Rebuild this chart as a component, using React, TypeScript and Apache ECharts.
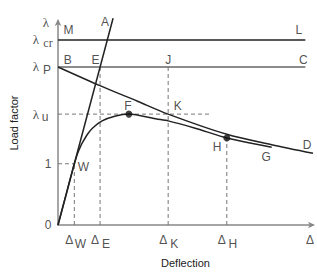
import React, { useEffect, useRef } from "react";
import * as echarts from "echarts";

// Key values (data units: x = deflection, y = load factor)
const lambdaCr = 3.02;
const lambdaP = 2.58;
const lambdaU = 1.81;
const deltaW = 0.64;
const deltaE = 1.65;
const deltaK = 4.32;
const deltaH = 6.62;
const xMax = 10;
const yMax = 3.33;

// Elastic line O-A
const lineA: number[][] = [[0, 0], [2.16, 3.375]];
// Rigid-plastic / mechanism line B-D
const curveBD: number[][] = [
  [0, 2.58], [1.62, 2.28], [3.12, 2.02], [4.32, 1.81], [6.62, 1.48], [8.38, 1.31], [10, 1.17],
];
// Actual response O-W-F-H-G
const curveOG: number[][] = [
  [0, 0], [0.32, 0.5], [0.56, 0.88], [0.64, 1], [0.76, 1.16], [0.88, 1.28], [0.98, 1.36],
  [1.17, 1.49], [1.35, 1.58], [1.73, 1.7], [2.26, 1.78], [2.78, 1.81], [3.87, 1.73],
  [4.32, 1.7], [5.38, 1.58], [6.62, 1.42], [7.63, 1.33], [8.38, 1.27],
];
const pointF: number[] = [2.78, 1.81];
const pointH: number[] = [6.62, 1.42];

// Dashed guide segments
const guides: number[][][] = [
  [[0, lambdaU], [5.94, lambdaU]],
  [[0, 1], [deltaW, 1]],
  [[deltaW, 0], [deltaW, 1]],
  [[deltaE, 0], [deltaE, lambdaP]],
  [[deltaK, 0], [deltaK, lambdaP]],
  [[deltaH, 0], [deltaH, 1.42]],
];

// Point letters: [text, x, y]
const letters: [string, number, number][] = [
  ["M", 0.41, 3.19], ["A", 1.84, 3.31], ["L", 9.44, 3.19],
  ["B", 0.38, 2.69], ["E", 1.47, 2.69], ["J", 4.32, 2.69], ["C", 9.62, 2.69],
  ["F", 2.74, 1.95], ["K", 4.7, 1.94], ["W", 1.0, 0.95],
  ["H", 6.24, 1.28], ["G", 8.16, 1.11], ["D", 9.77, 1.3],
];

// Y tick labels: [main, subscript, value]
const yTicks: [string, string, number][] = [
  ["0", "", 0], ["1", "", 1], ["λ", "u", lambdaU], ["λ", "P", lambdaP], ["λ", "cr", lambdaCr],
];
// X tick labels: [subscript, value]
const xTicks: [string, number][] = [
  ["W", deltaW], ["E", deltaE], ["K", deltaK], ["H", deltaH], ["", xMax],
];

const FONT = "Liberation Sans, Arial, sans-serif";
const SERIF = "Liberation Serif, DejaVu Serif, serif";

export default function App() {
  const ref = useRef<HTMLDivElement>(null);
  useEffect(() => {
    if (!ref.current) return;
    const chart = echarts.init(ref.current, undefined, { renderer: "svg" });

    const textData: any[] = [];
    letters.forEach(([t, x, y]) => {
      textData.push({
        value: [x, y],
        label: { show: true, position: "inside", formatter: t, fontSize: 12, color: "#222", fontFamily: FONT },
      });
    });
    yTicks.forEach(([m, s, v]) => {
      if (s === "") {
        textData.push({
          value: [0, v],
          label: { show: true, position: "inside", offset: [-10, 0], formatter: m, fontSize: 12, color: "#222", fontFamily: FONT },
        });
      } else {
        textData.push({
          value: [0, v],
          label: { show: true, position: "inside", offset: [-22, 0], formatter: m, fontSize: 13, color: "#222", fontFamily: SERIF },
        });
        const isSerif = s === "cr";
        textData.push({
          value: [0, v],
          label: {
            show: true, position: "inside",
            offset: [s === "cr" ? -10 : s === "P" ? -11 : -13, 3],
            formatter: s, fontSize: 12, color: "#222", fontFamily: isSerif ? SERIF : FONT,
          },
        });
      }
    });
    // top λ at axis end
    textData.push({
      value: [0, 3.31],
      label: { show: true, position: "inside", offset: [-12, 0], formatter: "λ", fontSize: 13, color: "#222", fontFamily: SERIF },
    });
    xTicks.forEach(([s, v]) => {
      textData.push({
        value: [v, 0],
        label: { show: true, position: "inside", offset: [s === "" ? -3 : -5, 15], formatter: "Δ", fontSize: 12, color: "#222", fontFamily: FONT },
      });
      if (s) {
        textData.push({
          value: [v, 0],
          label: { show: true, position: "inside", offset: [6, 19], formatter: s, fontSize: 12, color: "#222", fontFamily: FONT },
        });
      }
    });

    const guideSeries = guides.map((seg) => ({
      type: "line",
      data: seg,
      symbol: "none",
      lineStyle: { color: "#777", width: 1, type: [4, 3] },
      silent: true,
      z: 1,
    }));

    chart.setOption({
      animation: false,
      grid: { left: 47, right: 4, top: 21, bottom: 39 },
      xAxis: {
        type: "value", min: 0, max: xMax,
        name: "Deflection", nameLocation: "middle", nameGap: 32,
        nameTextStyle: { fontSize: 11, color: "#222", fontFamily: FONT },
        axisLine: { lineStyle: { color: "#888", width: 1.5 }, symbol: ["none", "arrow"], symbolSize: [5, 7], symbolOffset: [0, 2] },
        axisTick: { show: false }, axisLabel: { show: false }, splitLine: { show: false },
      },
      yAxis: {
        type: "value", min: 0, max: yMax,
        name: "Load factor", nameLocation: "middle", nameGap: 39,
        nameTextStyle: { fontSize: 11, color: "#222", fontFamily: FONT },
        axisLine: { lineStyle: { color: "#888", width: 1.5 }, symbol: ["none", "arrow"], symbolSize: [5, 7], symbolOffset: [0, 2] },
        axisTick: { show: false }, axisLabel: { show: false }, splitLine: { show: false },
      },
      series: [
        ...guideSeries,
        {
          type: "line", data: [[0, lambdaCr], [9.7, lambdaCr]], symbol: "none",
          lineStyle: { color: "#222", width: 1.5 }, z: 2,
        },
        {
          type: "line", data: [[0, lambdaP], [9.7, lambdaP]], symbol: "none",
          lineStyle: { color: "#666", width: 1.4 }, z: 2,
        },
        {
          type: "line", data: lineA, symbol: "none", clip: false,
          lineStyle: { color: "#222", width: 1.5 }, z: 3,
        },
        {
          type: "line", data: curveBD, symbol: "none", smooth: 0.3,
          lineStyle: { color: "#222", width: 1.5 }, z: 3,
        },
        {
          type: "line", data: curveOG, symbol: "none", smooth: 0.2,
          lineStyle: { color: "#222", width: 1.5 }, z: 3,
        },
        {
          type: "scatter", data: [pointF, pointH], symbolSize: 7,
          itemStyle: { color: "#111" }, z: 4,
        },
        {
          type: "scatter", data: textData, symbolSize: 0, clip: false,
          itemStyle: { color: "transparent" }, z: 5, silent: true,
        },
      ],
    });
    return () => chart.dispose();
  }, []);
  return <div ref={ref} style={{ position: "absolute", left: 0, top: 0, width: 317, height: 273 }} />;
}
